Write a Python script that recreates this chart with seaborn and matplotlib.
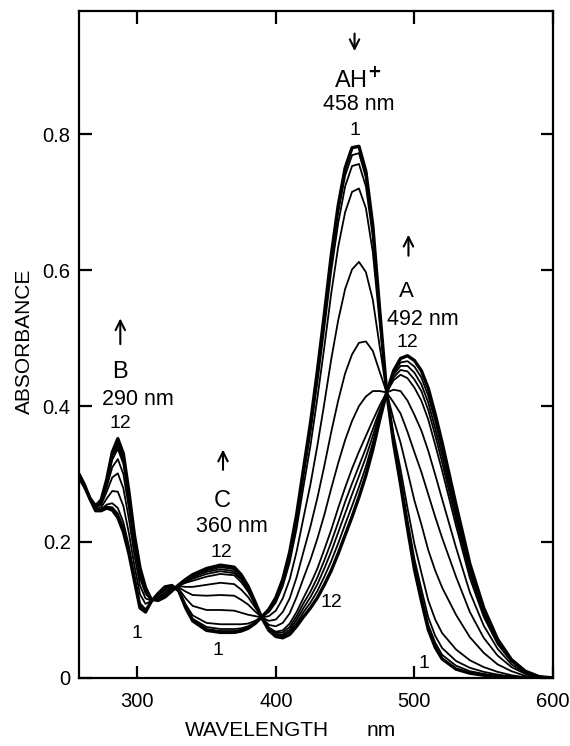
import pandas as pd
import matplotlib
matplotlib.use('Agg')
import matplotlib.pyplot as plt
import seaborn as sns

# wavelength grid (nm)
wavelength = [258, 262, 266, 270, 274, 278, 282, 286, 290, 294, 298, 302, 306, 310,
              315, 320, 325, 330, 335, 340, 350, 360, 370, 375, 380, 385, 390,
              395, 400, 405, 410, 415, 420, 425, 430, 435, 440, 445, 450, 455, 460,
              465, 470, 475, 480, 485, 490, 495, 500, 505, 510, 515, 520,
              530, 540, 550, 560, 570, 580, 590, 600]

# absorbance of the 12 spectra (1 = AH+ form, 12 = A form)
scan_01 = [.300, .284, .263, .246, .246, .250, .247, .236, .215, .183, .143, .103, .097, .112,
           .124, .134, .136, .128, .103, .084, .070, .067, .067, .069, .073, .080, .090,
           .101, .118, .145, .185, .240, .308, .375, .452, .535, .622, .695, .750, .780, .782,
           .745, .665, .540, .420, .345, .285, .220, .160, .114, .071, .045, .028,
           .013, .007, .004, .002, .001, 0, 0, 0]
scan_02 = [.300, .284, .263, .246, .246, .251, .249, .238, .217, .185, .144, .104, .098, .112,
           .124, .134, .136, .128, .104, .085, .072, .069, .069, .071, .074, .081, .090,
           .100, .117, .143, .183, .237, .304, .370, .445, .527, .613, .685, .739, .769, .772,
           .736, .658, .537, .420, .347, .289, .225, .166, .121, .078, .052, .034,
           .018, .010, .006, .003, .002, 0, 0, 0]
scan_03 = [.300, .284, .263, .246, .247, .252, .251, .242, .221, .188, .146, .106, .099, .112,
           .124, .133, .136, .128, .105, .087, .075, .072, .072, .073, .076, .082, .090,
           .099, .115, .141, .179, .232, .297, .361, .435, .515, .599, .669, .723, .753, .756,
           .723, .649, .532, .420, .350, .294, .233, .175, .131, .089, .062, .044,
           .025, .015, .009, .005, .002, .001, 0, 0]
scan_04 = [.299, .284, .263, .247, .248, .255, .257, .250, .229, .194, .151, .110, .101, .112,
           .123, .132, .135, .129, .108, .092, .081, .079, .079, .079, .080, .084, .090,
           .097, .111, .135, .170, .220, .282, .342, .412, .487, .566, .634, .685, .715, .720,
           .691, .626, .521, .420, .358, .307, .250, .197, .155, .114, .086, .066,
           .042, .026, .016, .009, .004, .001, 0, 0]
scan_05 = [.298, .283, .263, .248, .251, .264, .275, .274, .253, .213, .165, .123, .109, .113,
           .121, .129, .133, .131, .117, .106, .100, .100, .099, .096, .093, .091, .089,
           .091, .099, .117, .145, .186, .236, .285, .342, .404, .469, .526, .572, .601, .612,
           .597, .556, .487, .420, .380, .346, .304, .261, .226, .188, .158, .133,
           .093, .060, .037, .020, .010, .003, .001, 0]
scan_06 = [.297, .282, .264, .250, .255, .274, .295, .301, .279, .234, .181, .136, .117, .114,
           .118, .126, .132, .133, .127, .122, .121, .122, .121, .115, .108, .098, .089,
           .084, .086, .097, .117, .148, .186, .223, .265, .312, .362, .408, .448, .476, .493,
           .495, .481, .450, .420, .405, .389, .362, .332, .303, .270, .237, .206,
           .149, .097, .059, .033, .016, .006, .001, 0]
scan_07 = [.296, .282, .264, .251, .258, .281, .310, .322, .300, .250, .193, .147, .124, .115,
           .117, .123, .130, .135, .134, .134, .137, .140, .138, .130, .119, .104, .089,
           .078, .076, .081, .095, .119, .147, .174, .205, .240, .279, .316, .350, .378, .400,
           .414, .422, .422, .420, .424, .422, .408, .387, .364, .334, .299, .263,
           .192, .126, .077, .043, .020, .007, .001, 0]
scan_08 = [.296, .281, .264, .252, .260, .287, .321, .337, .315, .262, .201, .154, .128, .115,
           .115, .121, .129, .136, .140, .143, .149, .153, .151, .141, .127, .108, .088,
           .074, .068, .070, .080, .097, .118, .138, .161, .189, .218, .250, .280, .308, .333,
           .356, .379, .401, .420, .438, .446, .441, .427, .408, .380, .343, .305,
           .224, .147, .090, .050, .024, .009, .002, 0]
scan_09 = [.295, .281, .264, .252, .261, .288, .324, .342, .320, .266, .204, .157, .130, .116,
           .115, .120, .129, .136, .141, .146, .153, .157, .154, .145, .129, .109, .088,
           .073, .066, .067, .075, .091, .110, .127, .148, .173, .200, .229, .259, .286, .312,
           .338, .366, .394, .420, .442, .453, .451, .439, .422, .394, .357, .317,
           .233, .154, .094, .052, .025, .009, .002, 0]
scan_10 = [.295, .281, .264, .253, .261, .290, .327, .345, .323, .269, .206, .158, .131, .116,
           .115, .120, .128, .136, .142, .148, .156, .160, .157, .147, .131, .110, .088,
           .072, .064, .064, .071, .086, .103, .119, .138, .161, .186, .214, .242, .270, .297,
           .325, .356, .390, .420, .446, .459, .459, .449, .432, .405, .367, .327,
           .240, .158, .097, .054, .025, .009, .002, 0]
scan_11 = [.295, .281, .264, .253, .262, .291, .329, .349, .327, .271, .208, .160, .132, .116,
           .114, .119, .128, .137, .144, .150, .158, .163, .160, .150, .133, .111, .088,
           .071, .063, .062, .068, .081, .097, .111, .128, .149, .172, .198, .226, .253, .281,
           .311, .346, .385, .420, .449, .464, .466, .458, .442, .415, .378, .336,
           .248, .163, .100, .055, .026, .010, .002, 0]
scan_12 = [.295, .281, .264, .253, .262, .292, .332, .352, .330, .274, .210, .162, .133, .116,
           .114, .119, .128, .137, .145, .152, .161, .166, .163, .152, .135, .112, .088,
           .070, .061, .059, .064, .076, .090, .103, .118, .137, .158, .183, .210, .237, .266,
           .298, .336, .380, .420, .452, .470, .474, .467, .452, .426, .388, .346,
           .255, .168, .103, .057, .027, .010, .002, 0]

scans = [scan_01, scan_02, scan_03, scan_04, scan_05, scan_06,
         scan_07, scan_08, scan_09, scan_10, scan_11, scan_12]

x_ticks = [300, 400, 500, 600]
y_ticks = [0, 0.2, 0.4, 0.6, 0.8]
y_tick_labels = ['0', '0.2', '0.4', '0.6', '0.8']

# long-form table
frames = []
for i, s in enumerate(scans, start=1):
    frames.append(pd.DataFrame({'Wavelength': wavelength, 'Absorbance': s, 'Scan': i}))
df = pd.concat(frames, ignore_index=True)

# Plot
sns.set_style('ticks')
plt.rcParams['font.family'] = ['Liberation Sans', 'DejaVu Sans']
plt.rcParams.update({'text.color': 'black', 'axes.labelcolor': 'black',
                     'xtick.color': 'black', 'ytick.color': 'black',
                     'axes.edgecolor': 'black'})

fig = plt.figure(figsize=(5.7, 7.46), dpi=100)
ax = fig.add_axes([0.1386, 0.0912, 0.8316, 0.894])

for i in range(1, 13):
    lw = 2.4 if i in (1, 12) else 1.3
    sns.lineplot(data=df[df['Scan'] == i], x='Wavelength', y='Absorbance',
                 color='black', linewidth=lw, ax=ax, legend=False)

ax.set_xlim(258, 600)
ax.set_ylim(0, 0.981)
ax.set_xticks(x_ticks)
ax.set_yticks(y_ticks)
ax.set_yticklabels(y_tick_labels)
for sp in ax.spines.values():
    sp.set_linewidth(1.6)
    sp.set_visible(True)
ax.tick_params(direction='in', length=9, width=1.6, top=True, right=True,
               labelsize=14.5, colors='black')
ax.tick_params(axis='x', pad=10)
ax.tick_params(axis='y', pad=6)

ax.set_xlabel('WAVELENGTH', fontsize=15, va='top')
ax.xaxis.set_label_coords(0.3755, -0.064)
ax.text(0.637, -0.064, 'nm', fontsize=15, ha='center', va='top', transform=ax.transAxes)
ax.set_ylabel('ABSORBANCE', fontsize=15)
ax.yaxis.set_label_coords(-0.095, 0.505)

# band annotations
arrow = dict(arrowstyle='->', lw=1.5, color='black', mutation_scale=17)
ax.annotate('', xy=(456.8, 0.918), xytext=(456.8, 0.952), arrowprops=arrow)
ax.text(459, 0.869, 'AH$^{\\mathbf{+}}$', fontsize=17, ha='center', va='baseline')
ax.text(460, 0.835, '458 nm', fontsize=15.5, ha='center', va='baseline')
ax.text(457, 0.799, '1', fontsize=14, ha='center', va='baseline')

ax.annotate('', xy=(495.7, 0.656), xytext=(495.7, 0.617), arrowprops=arrow)
ax.text(494, 0.560, 'A', fontsize=16, ha='center', va='baseline')
ax.text(505.8, 0.519, '492 nm', fontsize=15.5, ha='center', va='baseline')
ax.text(495, 0.487, '12', fontsize=14, ha='center', va='baseline')

ax.annotate('', xy=(287.8, 0.533), xytext=(287.8, 0.487), arrowprops=arrow)
ax.text(287.8, 0.441, 'B', fontsize=17, ha='center', va='baseline')
ax.text(300.7, 0.401, '290 nm', fontsize=15.5, ha='center', va='baseline')
ax.text(287.8, 0.368, '12', fontsize=14, ha='center', va='baseline')
ax.text(300, 0.059, '1', fontsize=14, ha='center', va='baseline')

ax.annotate('', xy=(361.9, 0.340), xytext=(361.9, 0.302), arrowprops=arrow)
ax.text(361, 0.251, 'C', fontsize=17, ha='center', va='baseline')
ax.text(368, 0.215, '360 nm', fontsize=15.5, ha='center', va='baseline')
ax.text(361, 0.178, '12', fontsize=14, ha='center', va='baseline')
ax.text(358, 0.034, '1', fontsize=14, ha='center', va='baseline')

ax.text(440, 0.104, '12', fontsize=14, ha='center', va='baseline')
ax.text(507, 0.015, '1', fontsize=14, ha='center', va='baseline')

fig.savefig('out.png', dpi=100)
